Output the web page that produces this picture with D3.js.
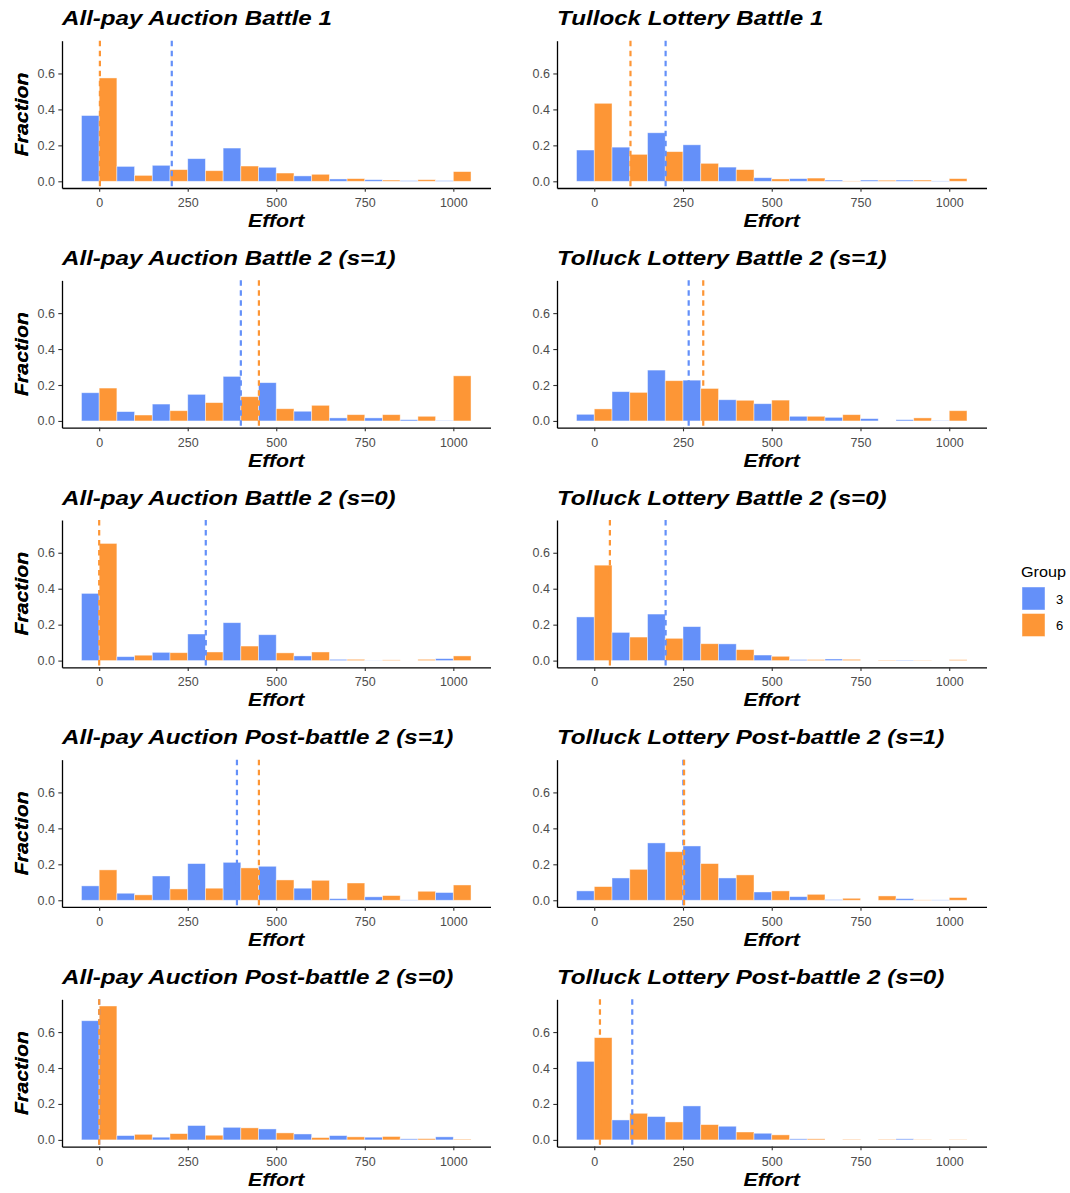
<!DOCTYPE html>
<html><head><meta charset="utf-8">
<script src="https://cdn.jsdelivr.net/npm/d3@7"></script>
<style>
body{margin:0;background:#fff;}
svg{display:block;}
text{font-family:"Liberation Sans",Arial,Helvetica,sans-serif;}
</style></head><body>
<svg id="chart" width="1070" height="1193"></svg>
<script>
// Bin centres (width 100) and the two groups
const bins = [0,100,200,300,400,500,600,700,800,900,1000];
const groups = ["3","6"];
const xTicks = [0,250,500,750,1000];
const yTicks = [0,0.2,0.4,0.6];

const titles = [
  "All-pay Auction Battle 1", "Tullock Lottery Battle 1",
  "All-pay Auction Battle 2 (s=1)", "Tolluck Lottery Battle 2 (s=1)",
  "All-pay Auction Battle 2 (s=0)", "Tolluck Lottery Battle 2 (s=0)",
  "All-pay Auction Post-battle 2 (s=1)", "Tolluck Lottery Post-battle 2 (s=1)",
  "All-pay Auction Post-battle 2 (s=0)", "Tolluck Lottery Post-battle 2 (s=0)"
];

// Fraction of efforts per bin, group 3 and group 6
const apB1_g3    = [0.366,0.083,0.089,0.126,0.185,0.078,0.030,0.013,0.009,0.004,0.004];
const apB1_g6    = [0.575,0.033,0.065,0.059,0.085,0.046,0.039,0.015,0.007,0.009,0.054];
const tlB1_g3    = [0.174,0.190,0.270,0.203,0.079,0.020,0.015,0.007,0.007,0.007,0.002];
const tlB1_g6    = [0.434,0.150,0.165,0.100,0.065,0.013,0.018,0.002,0.006,0.007,0.015];
const apB2s1_g3  = [0.157,0.052,0.094,0.148,0.248,0.213,0.054,0.017,0.017,0.007,0.002];
const apB2s1_g6  = [0.183,0.033,0.057,0.102,0.135,0.068,0.087,0.035,0.035,0.026,0.251];
const tlB2s1_g3  = [0.037,0.163,0.283,0.227,0.118,0.096,0.026,0.020,0.013,0.007,0.002];
const tlB2s1_g6  = [0.067,0.159,0.224,0.181,0.115,0.116,0.026,0.035,0,0.017,0.057];
const apB2s0_g3  = [0.374,0.022,0.046,0.148,0.211,0.144,0.026,0.007,0.001,0,0.011];
const apB2s0_g6  = [0.652,0.030,0.044,0.048,0.081,0.043,0.048,0.007,0.004,0.007,0.026];
const tlB2s0_g3  = [0.243,0.157,0.259,0.189,0.093,0.031,0.006,0.009,0,0.003,0];
const tlB2s0_g6  = [0.531,0.131,0.124,0.094,0.061,0.024,0.006,0.007,0.003,0.002,0.005];
const apPB2s1_g3 = [0.080,0.039,0.135,0.204,0.211,0.189,0.067,0.009,0.019,0.002,0.043];
const apPB2s1_g6 = [0.169,0.030,0.063,0.067,0.180,0.113,0.111,0.096,0.026,0.050,0.085];
const tlPB2s1_g3 = [0.052,0.124,0.319,0.302,0.124,0.046,0.020,0.004,0,0.009,0.002];
const tlPB2s1_g6 = [0.076,0.172,0.270,0.204,0.141,0.052,0.033,0.011,0.024,0.002,0.015];
const apPB2s0_g3 = [0.663,0.024,0.015,0.080,0.070,0.061,0.033,0.024,0.015,0.006,0.017];
const apPB2s0_g6 = [0.745,0.031,0.035,0.026,0.067,0.039,0.013,0.017,0.019,0.007,0.004];
const tlPB2s0_g3 = [0.437,0.111,0.130,0.189,0.076,0.037,0.006,0,0,0.006,0];
const tlPB2s0_g6 = [0.569,0.148,0.100,0.085,0.044,0.028,0.006,0.003,0.003,0.002,0.002];

// Mean effort per panel (dashed lines)
const means_g3 = [205,201,400,266,301,201,389,251,0,107];
const means_g6 = [2,102,451,307,0,44,451,253,0,16];

const series_g3 = [apB1_g3,tlB1_g3,apB2s1_g3,tlB2s1_g3,apB2s0_g3,tlB2s0_g3,apPB2s1_g3,tlPB2s1_g3,apPB2s0_g3,tlPB2s0_g3];
const series_g6 = [apB1_g6,tlB1_g6,apB2s1_g6,tlB2s1_g6,apB2s0_g6,tlB2s0_g6,apPB2s1_g6,tlPB2s1_g6,apPB2s0_g6,tlPB2s0_g6];

const color = d3.scaleOrdinal().domain(groups).range(["#6490F9","#FD9636"]);

const svg = d3.select("#chart");
const cols = [{left:62, right:490.5},{left:557, right:986.5}];
const rowTop0 = 40.7, rowStep = 239.65, plotH = 147.3;
const binW = 100;

const yMax = d3.max(series_g3.concat(series_g6).flat());
const yDomain = [-0.05*yMax, 1.05*yMax];
const xLo = bins[0]-binW/2, xHi = bins[bins.length-1]+binW/2;
const xPad = 0.05*(xHi-xLo);

titles.forEach((title,i)=>{
  const col = i%2, row = Math.floor(i/2);
  const top = rowTop0 + row*rowStep, bottom = top + plotH;
  const {left,right} = cols[col];
  const x = d3.scaleLinear().domain([xLo-xPad, xHi+xPad]).range([left,right]);
  const y = d3.scaleLinear().domain(yDomain).range([bottom, top]);
  const g = svg.append("g");

  // dodged histogram bars
  const rows = [];
  bins.forEach((b,k)=>{
    rows.push({grp:"3", x0:b-binW/2, x1:b, v:series_g3[i][k]});
    rows.push({grp:"6", x0:b, x1:b+binW/2, v:series_g6[i][k]});
  });
  g.selectAll("rect.bar").data(rows.filter(d=>d.v>0)).join("rect")
    .attr("class","bar")
    .attr("x",d=>x(d.x0)).attr("width",d=>x(d.x1)-x(d.x0))
    .attr("y",d=>y(d.v)).attr("height",d=>y(0)-y(d.v))
    .attr("fill",d=>color(d.grp))
    .attr("stroke","#ffffff").attr("stroke-opacity",0.55).attr("stroke-width",0.8);

  // group means
  [["3",means_g3[i]],["6",means_g6[i]]].forEach(([grp,m])=>{
    g.append("line")
      .attr("x1",x(m)).attr("x2",x(m)).attr("y1",top).attr("y2",bottom)
      .attr("stroke",color(grp)).attr("stroke-width",2.2)
      .attr("stroke-dasharray","5.5,4.5");
  });

  // axes
  const yAxis = g.append("g").attr("transform",`translate(${left},0)`)
    .call(d3.axisLeft(y).tickValues(yTicks).tickFormat(d3.format(".1f")).tickSize(3.7).tickSizeOuter(0).tickPadding(3.3));
  const xAxis = g.append("g").attr("transform",`translate(0,${bottom})`)
    .call(d3.axisBottom(x).tickValues(xTicks).tickFormat(d3.format("d")).tickSize(3.7).tickSizeOuter(0).tickPadding(6.5));
  [yAxis,xAxis].forEach(a=>{
    a.attr("font-size",null).attr("font-family",null);
    a.select(".domain").attr("stroke","#000").attr("stroke-width",1.3);
    a.selectAll(".tick line").attr("stroke","#333").attr("stroke-width",1.1);
    a.selectAll(".tick text").attr("fill","#4d4d4d").style("font-size","12.5px")
      .style("font-family",'"Liberation Sans",Arial,sans-serif');
  });

  // titles
  g.append("text").attr("transform",`translate(${left},${top-15.5}) scale(1.15,1)`)
    .style("font-size","21px").style("font-weight","bold").style("font-style","italic")
    .text(title);
  g.append("text").attr("transform",`translate(${(left+right)/2},${bottom+39}) scale(1.12,1)`)
    .attr("text-anchor","middle")
    .style("font-size","19px").style("font-weight","bold").style("font-style","italic")
    .text("Effort");
  g.append("text").attr("transform",`translate(28,${(top+bottom)/2}) rotate(-90) scale(1.12,1)`)
    .attr("text-anchor","middle")
    .style("font-size","19px").style("font-weight","bold").style("font-style","italic")
    .text("Fraction");
});

// legend
const leg = svg.append("g").attr("transform","translate(1021,0)");
leg.append("text").attr("transform","translate(0,577) scale(1.08,1)")
  .style("font-size","15px").text("Group");
groups.forEach((grp,k)=>{
  const ky = 587 + k*26.5;
  leg.append("rect").attr("x",1).attr("y",ky).attr("width",23).attr("height",23)
    .attr("fill",color(grp)).attr("stroke","#fff").attr("stroke-opacity",0.55).attr("stroke-width",0.8);
  leg.append("text").attr("transform",`translate(35,${ky+16.5})`)
    .style("font-size","13px").text(grp);
});
</script>
</body></html>
